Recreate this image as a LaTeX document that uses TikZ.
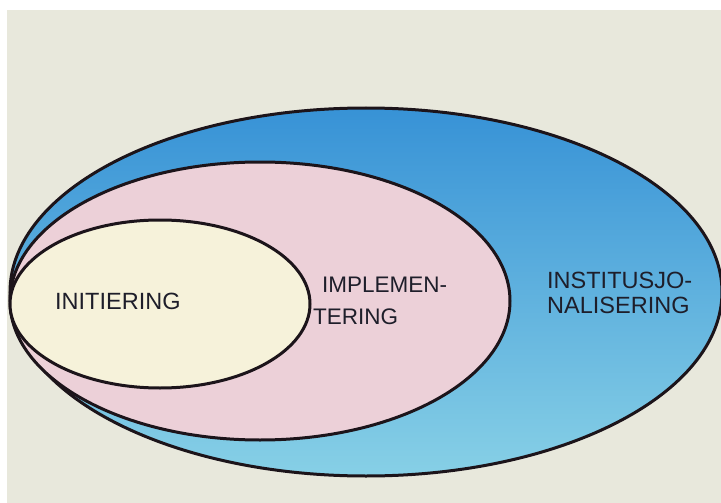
\documentclass[tikz,border=0pt]{standalone}
\usepackage{fontspec}
\setmainfont{Liberation Sans}
\usetikzlibrary{shapes.geometric}
\definecolor{bgcream}{RGB}{232,232,220}
\definecolor{blueTop}{RGB}{55,146,214}
\definecolor{blueBot}{RGB}{135,208,230}
\definecolor{pinkfill}{RGB}{236,208,216}
\definecolor{creamfill}{RGB}{246,242,218}
\definecolor{inkline}{RGB}{28,20,26}
\definecolor{inktext}{RGB}{30,30,42}
\begin{document}
\begin{tikzpicture}[x=1pt,y=-1pt,
  ring/.style={ellipse, draw=inkline, line width=3pt, inner sep=0pt},
  lbl/.style={anchor=north west, inner sep=0pt, text=inktext, align=left,
    font=\fontsize{23.5pt}{25pt}\selectfont}]
\useasboundingbox (0,0) rectangle (721,503);
\clip (0,0) rectangle (721,503);
\fill[white] (0,0) rectangle (721,503);
\fill[bgcream] (7,10) rectangle (721,503);
\node[ring, minimum width=712pt, minimum height=368pt, top color=blueTop, bottom color=blueBot] (outer) at (366,292) {};
\node[ring, minimum width=500pt, minimum height=278pt, fill=pinkfill] (middle) at (260,301) {};
\node[ring, minimum width=300pt, minimum height=168pt, fill=creamfill] (inner) at (160,304) {};
\node[lbl] (tinit) at (55,293) {INITIERING};
\node[lbl, font=\fontsize{22.5pt}{32pt}\selectfont] (timpl) at (322,277) {IMPLEMEN-\\\hspace*{-9pt}TERING};
\node[lbl] (tinst) at (547,272) {INSTITUSJO-\\NALISERING};
\end{tikzpicture}
\end{document}
